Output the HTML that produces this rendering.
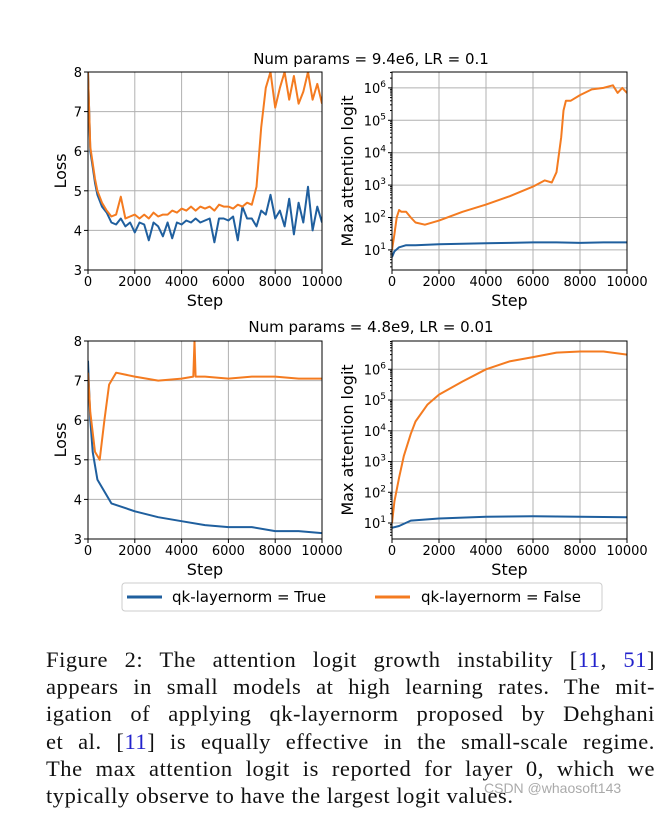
<!DOCTYPE html>
<html><head><meta charset="utf-8">
<style>
html,body{margin:0;padding:0;background:#fff;}
body{width:658px;height:834px;position:relative;overflow:hidden;}
#cap{position:absolute;left:46px;top:646px;width:609px;font-family:"Liberation Serif",serif;font-size:22.5px;line-height:27.2px;color:#111;letter-spacing:0.55px;}
#cap div{text-align:justify;text-align-last:justify;white-space:nowrap;}
#cap div.last{text-align-last:left;}
#wm{position:absolute;left:484px;top:780px;font-family:"Liberation Sans",sans-serif;font-size:14px;color:#aaa;}
</style></head><body>
<svg id="fig" width="658" height="640" style="position:absolute;left:0;top:0" font-family="DejaVu Sans, Liberation Sans, sans-serif"></svg>
<div id="cap">
<div>Figure 2: The attention logit growth instability [<span style="color:#22c">11</span>, <span style="color:#22c">51</span>]</div>
<div>appears in small models at high learning rates. The mit-</div>
<div>igation of applying qk-layernorm proposed by Dehghani</div>
<div>et al. [<span style="color:#22c">11</span>] is equally effective in the small-scale regime.</div>
<div>The max attention logit is reported for layer 0, which we</div>
<div class="last">typically observe to have the largest logit values.</div>
</div>
<div id="wm">CSDN @whaosoft143</div>
<script>
const tlX=[0,50,100,200,300,400,600,800,1000,1200,1400,1600,1800,2000,2200,2400,2600,2800,3000,3200,3400,3600,3800,4000,4200,4400,4600,4800,5000,5200,5400,5600,5800,6000,6200,6400,6600,6800,7000,7200,7400,7600,7800,8000,8200,8400,8600,8800,9000,9200,9400,9600,9800,10000];
const tlBlue=[8,7,6,5.6,5.2,4.9,4.6,4.45,4.2,4.15,4.3,4.1,4.2,3.95,4.2,4.15,3.75,4.2,4.1,3.85,4.2,3.8,4.2,4.15,4.25,4.2,4.3,4.2,4.25,4.3,3.7,4.3,4.3,4.25,4.35,3.75,4.6,4.3,4.3,4.1,4.5,4.4,4.9,4.3,4.5,4.1,4.8,3.9,4.7,4.2,5.1,4.0,4.6,4.2];
const tlOrange=[8,7,6.1,5.7,5.3,5.0,4.7,4.5,4.35,4.4,4.85,4.3,4.35,4.4,4.3,4.4,4.3,4.45,4.35,4.4,4.4,4.5,4.45,4.55,4.5,4.6,4.5,4.6,4.55,4.6,4.5,4.65,4.6,4.6,4.55,4.65,4.6,4.7,4.65,5.1,6.6,7.6,8.0,7.1,7.6,8.0,7.3,7.9,7.2,7.5,8.0,7.3,7.7,7.2];
const trBX=[0,100,300,600,1000,2000,3000,4000,5000,6000,7000,8000,9000,10000];
const trBlue=[6,9,12,14,14,15,15.5,16,16.5,17,17,16.5,17,17];
const trOX=[0,100,200,300,400,600,800,1000,1400,2000,3000,4000,5000,6000,6500,6800,7000,7200,7300,7400,7600,8000,8500,9000,9400,9600,9800,10000];
const trOrange=[10,30,100,170,150,150,100,70,60,80,150,250,450,900,1400,1200,2500,30000,200000,400000,400000,600000,900000,1000000,1200000,700000,1000000,700000];
const blX=[0,100,200,400,700,1000,1500,2000,3000,4000,5000,6000,7000,8000,9000,10000];
const blBlue=[7.5,6,5.2,4.5,4.2,3.9,3.8,3.7,3.55,3.45,3.35,3.3,3.3,3.2,3.2,3.15];
const blOX=[0,100,300,500,700,900,1200,2000,3000,4000,4500,4550,4600,4700,5000,6000,7000,8000,9000,10000];
const blOrange=[7.2,6.2,5.2,5.0,6.0,6.9,7.2,7.1,7.0,7.05,7.1,8,7.1,7.1,7.1,7.05,7.1,7.1,7.05,7.05];
const brBX=[0,300,800,2000,4000,6000,8000,10000];
const brBlue=[7,8,12,14,16,16.5,16,15.5];
const brOX=[0,100,300,500,800,1000,1500,2000,3000,4000,5000,6000,7000,8000,9000,10000];
const brOrange=[10,50,300,1500,8000,20000,70000,150000,400000,1000000,1800000,2500000,3500000,3800000,3800000,3000000];
const xTicks=[0,2000,4000,6000,8000,10000];
const lossTicks=[3,4,5,6,7,8];
const logTicks=[1,2,3,4,5,6];
const BLUE='#1f5f9e',OR='#f47b20';
const svg=document.getElementById('fig');
const NS='http://www.w3.org/2000/svg';
function mk(t,a,p){const e=document.createElementNS(NS,t);for(const k in a)e.setAttribute(k,a[k]);(p||svg).appendChild(e);return e;}
function txt(s,x,y,size,anchor,p){const e=mk('text',{x:x,y:y,'font-size':size,'text-anchor':anchor||'middle',fill:'#000'},p);e.textContent=s;return e;}
function panel(name,L,R,T,B,ymin,ymax,log,series,ylab){
 const g=mk('g',{});
 
 
 const sx=v=>L+(v/10000)*(R-L);
 const sy=v=>{const u=log?Math.log10(v):v;return B-(u-ymin)/(ymax-ymin)*(B-T);};
 xTicks.forEach(t=>{mk('line',{x1:sx(t),x2:sx(t),y1:T,y2:B,stroke:'#b0b0b0','stroke-width':1},g);mk('line',{x1:sx(t),x2:sx(t),y1:B,y2:B+4,stroke:'#000'},g);
  const l=txt(String(t),sx(t),B+16,13,'middle',g);});
 if(log){logTicks.forEach(d=>{const y=sy(Math.pow(10,d));mk('line',{x1:L,x2:R,y1:y,y2:y,stroke:'#b0b0b0'},g);mk('line',{x1:L-4,x2:L,y1:y,y2:y,stroke:'#000'},g);
   const t=mk('text',{x:L-6,y:y+5,'font-size':13,'text-anchor':'end'},g);
   t.appendChild(document.createTextNode('10'));const s=mk('tspan',{dy:-6,'font-size':9},t);s.textContent=d;
   for(let k=2;k<10;k++){const yy=sy(k*Math.pow(10,d-1));if(yy<=B&&yy>=T)mk('line',{x1:L-2,x2:L,y1:yy,y2:yy,stroke:'#000'},g);}
   for(let k=2;k<10;k++){const yy=sy(k*Math.pow(10,d));if(yy<=B&&yy>=T&&d==6)mk('line',{x1:L-2,x2:L,y1:yy,y2:yy,stroke:'#000'},g);}
  });}
 else{lossTicks.forEach(v=>{const y=sy(v);mk('line',{x1:L,x2:R,y1:y,y2:y,stroke:'#b0b0b0'},g);mk('line',{x1:L-4,x2:L,y1:y,y2:y,stroke:'#000'},g);
   const l=txt(String(v),L-6,y+5,13,'end',g);});}
 const cp='cp'+name;const c=mk('clipPath',{id:cp},g);mk('rect',{x:L,y:T,width:R-L,height:B-T},c);
 series.forEach(s=>{const pts=s.x.map((v,i)=>sx(v).toFixed(1)+','+sy(s.y[i]).toFixed(1)).join(' ');
  const pl=mk('polyline',{points:pts,fill:'none',stroke:s.c,'stroke-width':2,'stroke-linejoin':'round','clip-path':'url(#'+cp+')'},g);
  });
 mk('rect',{x:L,y:T,width:R-L,height:B-T,fill:'none',stroke:'#000','stroke-width':1},g);
 const xl=txt('Step',(L+R)/2,B+36,16,'middle',g);
 const yl=txt(ylab,0,0,16,'middle',g);yl.setAttribute('transform','translate('+(log?L-39:L-22)+','+((T+B)/2)+') rotate(-90)');
 
}
panel('loss-small',88,322,72,270,3,8,false,[{x:tlX,y:tlBlue,c:BLUE,n:'loss-true-line'},{x:tlX,y:tlOrange,c:OR,n:'loss-false-line'}],'Loss');
panel('logit-small',392,627,72,270,0.38,6.49,true,[{x:trBX,y:trBlue,c:BLUE,n:'logit-true-line'},{x:trOX,y:trOrange,c:OR,n:'logit-false-line'}],'Max attention logit');
panel('loss-large',88,322,341,539,3,8,false,[{x:blX,y:blBlue,c:BLUE,n:'loss-true-line'},{x:blOX,y:blOrange,c:OR,n:'loss-false-line'}],'Loss');
panel('logit-large',392,627,341,539,0.48,6.92,true,[{x:brBX,y:brBlue,c:BLUE,n:'logit-true-line'},{x:brOX,y:brOrange,c:OR,n:'logit-false-line'}],'Max attention logit');
const t1=txt('Num params = 9.4e6, LR = 0.1',371,64,15);

const t2=txt('Num params = 4.8e9, LR = 0.01',371,332,15);

const lg=mk('g',{});


mk('rect',{x:122,y:583,width:480,height:28,rx:3,fill:'#fff',stroke:'#ccc'},lg);
mk('line',{x1:127,x2:162,y1:597,y2:597,stroke:BLUE,'stroke-width':3},lg);
const a=txt('qk-layernorm = True',172,602,15,'start',lg);
mk('line',{x1:375,x2:410,y1:597,y2:597,stroke:OR,'stroke-width':3},lg);
const b=txt('qk-layernorm = False',421,602,15,'start',lg);
</script>
</body></html>
